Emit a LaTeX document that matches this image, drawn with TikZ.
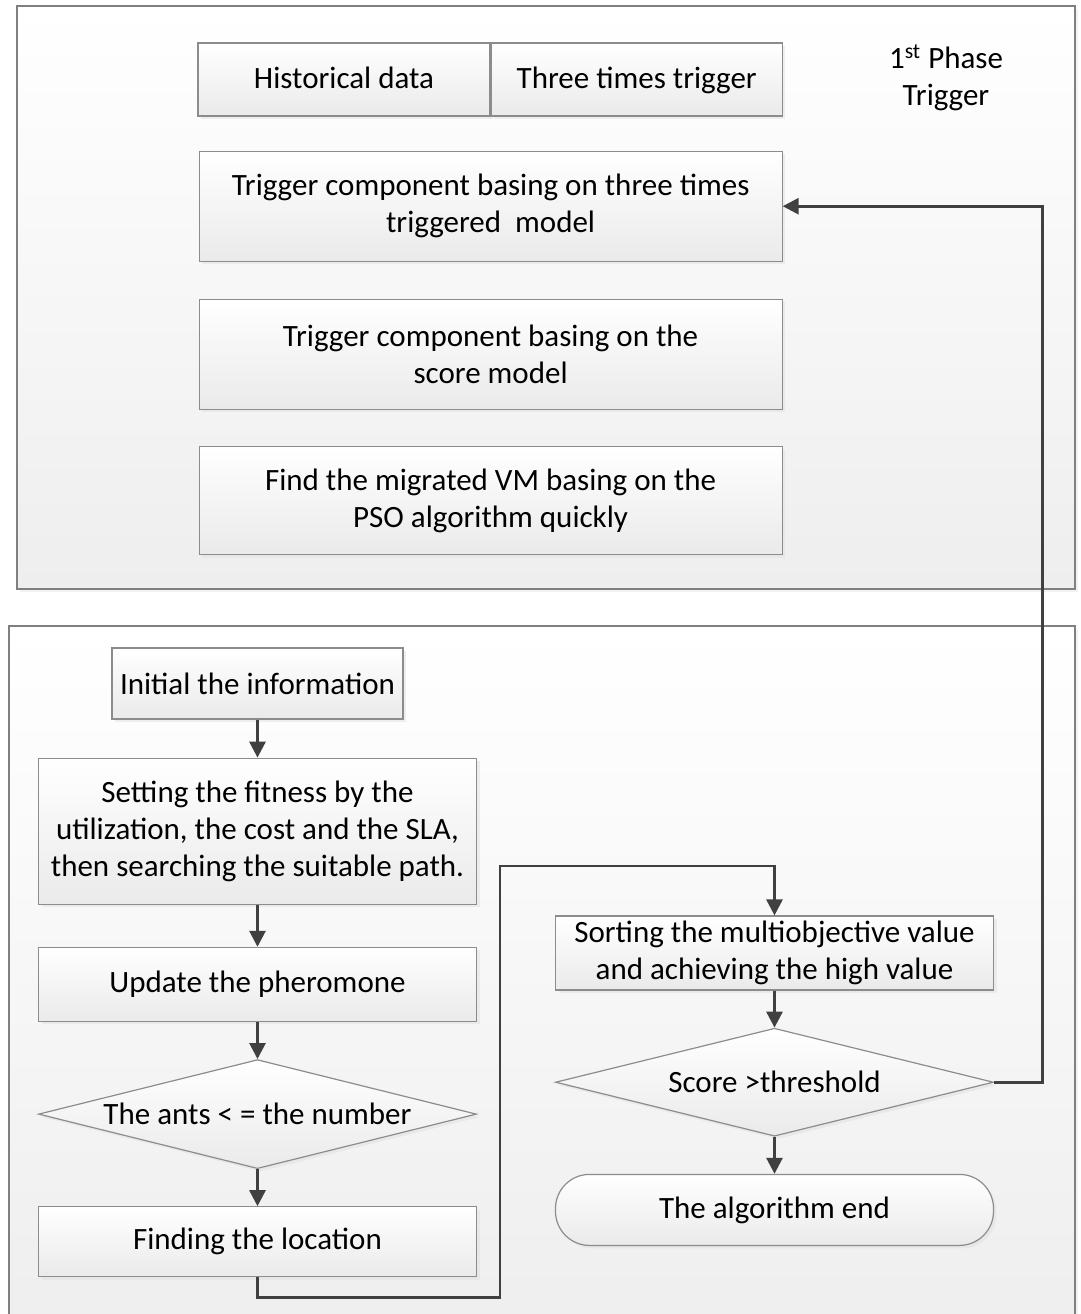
\documentclass[tikz,border=0pt]{standalone}
\usepackage{fontspec}
\setmainfont{Carlito}
\usetikzlibrary{positioning, shapes.geometric, arrows.meta, shadows}
\definecolor{boxline}{HTML}{8C8C8C}
\definecolor{boxbot}{HTML}{EAEAEA}
\definecolor{flowline}{HTML}{404040}
\definecolor{panelbot}{HTML}{EEEEEE}

\begin{document}
\begin{tikzpicture}[x=0.5pt, y=-0.5pt,
  every node/.style={font=\fontsize{15.5}{18.5}\selectfont},
  block/.style={draw=boxline, line width=0.6pt, top color=white, bottom color=boxbot,
    align=center, inner sep=2pt, minimum width=219pt,
    drop shadow={shadow xshift=1.5pt, shadow yshift=-1.5pt, fill=black!12}},
  decision/.style={block, diamond, aspect=4, inner sep=0pt},
  terminal/.style={block, rounded corners=17pt},
  panel/.style={draw=gray, line width=0.8pt, top color=white, bottom color=panelbot,
    drop shadow={shadow xshift=1.5pt, shadow yshift=-1.5pt, fill=black!10}},
  flow/.style={draw=flowline, line width=1.4pt, -{Triangle[length=8pt,width=8pt]}}]

\useasboundingbox (0,0) rectangle (1081,1314);

% the two phase panels
\path[panel] (17,6) rectangle (1075,589);
\path[panel] (9,626) rectangle (1075,1340);

% 1st phase
\node[block, minimum width=146pt, minimum height=36.5pt, text height=2ex, text depth=0.2ex] (hist) at (344,79.5) {Historical data};
\node[block, minimum width=145.5pt, minimum height=36.5pt, text height=2ex, text depth=0.2ex] (three) [right=0pt of hist] {Three times trigger};
\node[block, minimum width=291.5pt, minimum height=55pt] (trig3) [below=17pt of hist.south east]
  {Trigger component basing on three times\\triggered\ \ model};
\node[block, minimum width=291.5pt, minimum height=55pt] (score) [below=18.5pt of trig3]
  {Trigger component basing on the\\score model};
\node[block, minimum width=291.5pt, minimum height=54pt] (pso) [below=18pt of score]
  {Find the migrated VM basing on the\\PSO algorithm quickly};
\node[align=center] (phase) at (946,78) {1\textsuperscript{st} Phase\\Trigger};

% 2nd phase
\node[block, minimum width=145.5pt, minimum height=35.5pt] (init) at (257.5,683.5) {Initial the information};
\node[block, minimum height=73pt] (fitness) [below=19pt of init]
  {Setting the fitness by the\\utilization, the cost and the SLA,\\then searching the suitable path.};
\node[block, minimum height=37pt] (update) [below=21pt of fitness] {Update the pheromone};
\node[decision, minimum height=54.5pt] (ants) [below=18.5pt of update] {The ants < = the number};
\node[block, minimum height=35pt] (find) [below=18.5pt of ants] {Finding the location};

\node[block, minimum height=37pt] (sorting) at (774.5,953)
  {Sorting the multiobjective value\\and achieving the high value};
\node[decision, minimum height=54pt] (check) [below=18.5pt of sorting] {Score >threshold};
\node[terminal, minimum height=35.5pt] (theend) [below=18.5pt of check] {The algorithm end};

\coordinate (detour) at (500,866);

\draw[flow] (init) -- (fitness);
\draw[flow] (fitness) -- (update);
\draw[flow] (update) -- (ants);
\draw[flow] (ants) -- (find);
\draw[flow] (find.south) -- ++(0,20) -| (detour) -| (sorting.north);
\draw[flow] (sorting) -- (check);
\draw[flow] (check) -- (theend);
\draw[flow] (check.east) -- ++(48,0) |- (trig3.east);
\end{tikzpicture}
\end{document}
